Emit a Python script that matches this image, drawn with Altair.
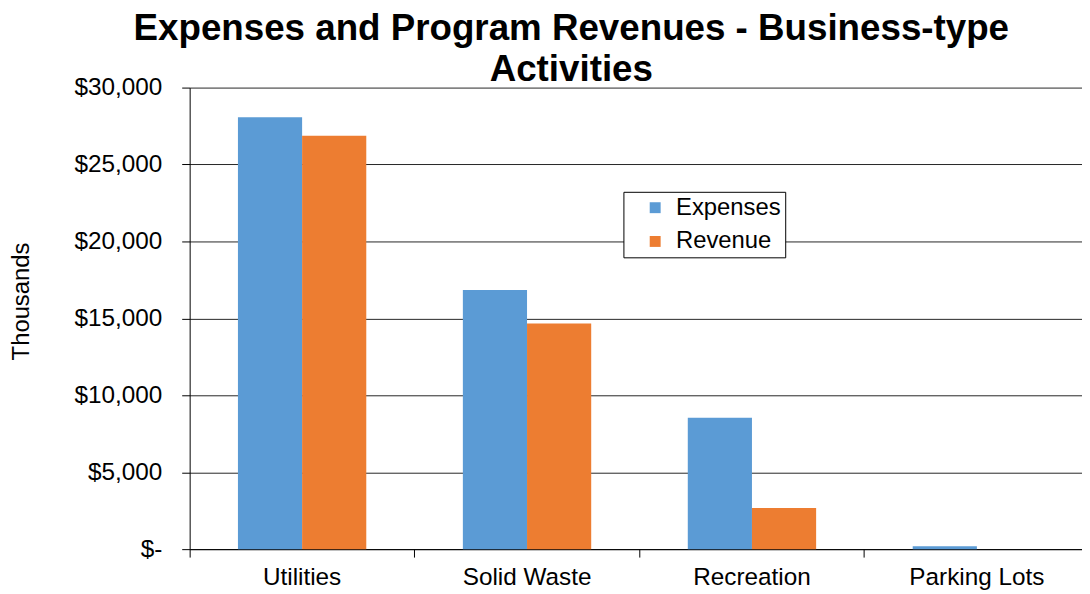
import altair as alt
import pandas as pd

categories = ["Utilities", "Solid Waste", "Recreation", "Parking Lots"]
series = ["Expenses", "Revenue"]
expenses = [28065, 16840, 8540, 195]
revenue = [26865, 14670, 2670, 0]
colors = ["#5B9BD5", "#ED7D31"]
y_ticks = [0, 5000, 10000, 15000, 20000, 25000, 30000]

rows = []
for c, e, r in zip(categories, expenses, revenue):
    rows.append({"Category": c, "Series": "Expenses", "Value": e})
    rows.append({"Category": c, "Series": "Revenue", "Value": r})
df = pd.DataFrame(rows)

FONT = "Liberation Sans"
RANGE = [0, 906.4]

bars = alt.Chart(df).mark_bar().encode(
    x=alt.X(
        "Category:N",
        sort=categories,
        scale=alt.Scale(range=RANGE, paddingInner=0.4294, paddingOuter=0.2147),
        axis=alt.Axis(
            orient="bottom",
            title=None,
            ticks=False,
            domain=True,
            domainColor="#000000",
            domainWidth=1,
            labelFontSize=24.5,
            labelColor="#000000",
            labelAngle=0,
            labelPadding=17,
            grid=False,
        ),
    ),
    xOffset=alt.XOffset("Series:N", sort=series, scale=alt.Scale(paddingInner=0, paddingOuter=0)),
    y=alt.Y(
        "Value:Q",
        scale=alt.Scale(domain=[0, 30000], nice=False),
        axis=alt.Axis(
            title="Thousands",
            titleFontSize=24,
            titleFontWeight="normal",
            titleColor="#000000",
            titleAngle=-90,
            titleBaseline="alphabetic",
            titleX=-162,
            titleY=215,
            values=y_ticks,
            labelExpr="datum.value == 0 ? '$-' : '$' + format(datum.value, ',')",
            labelFontSize=24.5,
            labelColor="#000000",
            labelPadding=20,
            tickSize=8,
            tickColor="#000000",
            domainColor="#000000",
            grid=True,
            gridColor="#262626",
            gridWidth=1,
        ),
    ),
    color=alt.Color(
        "Series:N",
        sort=series,
        scale=alt.Scale(domain=series, range=colors),
        legend=alt.Legend(
            title=None,
            orient="none",
            legendX=437,
            legendY=105,
            padding=4,
            symbolOffset=16,
            symbolType="square",
            symbolSize=121,
            symbolStrokeWidth=0,
            labelFontSize=24,
            labelColor="#000000",
            labelOffset=9,
            rowPadding=10,
            strokeColor="#000000",
            fillColor="#FFFFFF",
            labelExpr="datum.label + '\u00a0\u00a0'",
        ),
    ),
)

tick_layer = alt.Chart(df).mark_tick(opacity=0).encode(
    x=alt.X(
        "Category:N",
        sort=categories,
        scale=alt.Scale(range=RANGE, paddingInner=0, paddingOuter=0),
        axis=alt.Axis(
            orient="bottom",
            title=None,
            labels=False,
            domain=False,
            grid=False,
            ticks=True,
            tickSize=8,
            tickColor="#000000",
            bandPosition=0,
        ),
    ),
)

chart = (
    alt.layer(bars, tick_layer)
    .resolve_scale(x="independent")
    .resolve_axis(x="independent")
    .properties(
        width=898,
        height=465,
        title=alt.TitleParams(
            text=["Expenses and Program Revenues - Business-type", "Activities"],
            fontSize=37,
            fontWeight="bold",
            color="#000000",
            lineHeight=41,
            anchor="middle",
            frame="group",
            dx=-64.5,
            offset=-14,
        ),
        autosize=alt.AutoSizeParams(type="none"),
        padding={"left": 183, "top": 78, "right": 1, "bottom": 43},
    )
    .configure(font=FONT)
    .configure_view(stroke=None)
)

chart.save("out.html", embed_options={"renderer": "svg", "actions": False})
